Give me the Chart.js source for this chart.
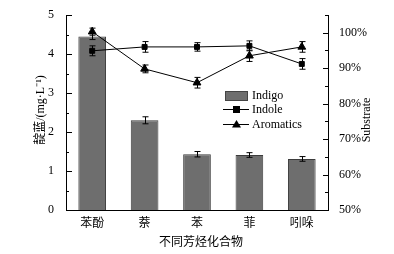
<!DOCTYPE html>
<html>
<head>
<meta charset="utf-8">
<script src="https://cdn.jsdelivr.net/npm/chart.js@4.4.0/dist/chart.umd.min.js"></script>
<style>
  html, body { margin: 0; padding: 0; background: #fff; }
  #wrap { width: 394px; height: 254px; }
</style>
</head>
<body>
<div id="wrap"><canvas id="myChart" width="394" height="254"></canvas></div>
<script>
// data
const categories = ['苯酚', '萘', '苯', '菲', '吲哚'];
const indigo = [4.45, 2.30, 1.43, 1.41, 1.31];
const indigoErr = [0.08, 0.09, 0.07, 0.06, 0.06];
const indole = [94.9, 96.0, 96.0, 96.3, 91.2];
const indoleErr = [1.4, 1.5, 1.2, 1.4, 1.5];
const aromatics = [100.3, 89.8, 85.9, 93.5, 96.0];
const aromaticsErr = [1.0, 1.1, 1.5, 1.6, 1.5];
const leftTicks = [0, 1, 2, 3, 4, 5];
const rightTicks = [50, 60, 70, 80, 90, 100];

const serif = '"Liberation Serif", "DejaVu Serif", serif';
const cjk = '"Noto Sans CJK SC", sans-serif';

// error bars, inward ticks, axis titles and the inset legend
const extras = {
  id: 'extras',
  afterDatasetsDraw(chart) {
    const ctx = chart.ctx;
    const errs = [indigoErr, indoleErr, aromaticsErr];
    ctx.save();
    ctx.strokeStyle = '#000';
    ctx.lineWidth = 1;
    chart.data.datasets.forEach((ds, i) => {
      const meta = chart.getDatasetMeta(i);
      const scale = chart.scales[ds.yAxisID];
      meta.data.forEach((el, j) => {
        const x = Math.round(el.x) + 0.5;
        const hi = scale.getPixelForValue(ds.data[j] + errs[i][j]);
        const lo = scale.getPixelForValue(ds.data[j] - errs[i][j]);
        ctx.beginPath();
        ctx.moveTo(x, hi); ctx.lineTo(x, lo);
        ctx.moveTo(x - 3, hi); ctx.lineTo(x + 3, hi);
        ctx.moveTo(x - 3, lo); ctx.lineTo(x + 3, lo);
        ctx.stroke();
      });
    });
    ctx.restore();
  },
  afterDraw(chart) {
    const ctx = chart.ctx;
    const a = chart.chartArea;
    const y = chart.scales.y, y2 = chart.scales.y2;
    ctx.save();
    ctx.strokeStyle = '#000';
    ctx.lineWidth = 1;
    ctx.beginPath();
    for (let v = 0; v <= 5; v += 0.5) {
      const p = Math.round(y.getPixelForValue(v)) + 0.5;
      ctx.moveTo(a.left, p); ctx.lineTo(a.left + (v % 1 === 0 ? 6 : 3), p);
    }
    for (let v = 50; v <= 105; v += 5) {
      const p = Math.round(y2.getPixelForValue(v)) + 0.5;
      ctx.moveTo(a.right, p); ctx.lineTo(a.right - (v % 10 === 0 ? 5 : 3), p);
    }
    ctx.stroke();

    // axis titles
    ctx.fillStyle = '#000';
    ctx.textAlign = 'center';
    ctx.textBaseline = 'middle';
    ctx.save();
    ctx.translate(41, 110);
    ctx.rotate(-Math.PI / 2);
    ctx.font = '12px "Liberation Serif", "Noto Sans CJK SC", serif';
    ctx.fillText('靛蓝/(mg·L⁻¹)', 0, 0);
    ctx.restore();
    ctx.save();
    ctx.translate(367, 120);
    ctx.rotate(-Math.PI / 2);
    ctx.font = '12px ' + serif;
    ctx.fillText('Substrate', 0, 0);
    ctx.restore();
    ctx.font = '12px ' + cjk;
    ctx.fillText('不同芳烃化合物', 201, 241);

    // legend
    const lx = 225;
    ctx.textAlign = 'left';
    ctx.font = '12px ' + serif;
    ctx.fillStyle = '#6e6e6e';
    ctx.fillRect(lx, 91, 23, 10);
    ctx.strokeStyle = '#444';
    ctx.strokeRect(lx + 0.5, 91.5, 22, 9);
    ctx.fillStyle = '#000';
    ctx.fillText('Indigo', lx + 27, 96);
    ctx.strokeStyle = '#000';
    ctx.beginPath();
    ctx.moveTo(lx - 2, 109.5); ctx.lineTo(lx + 24, 109.5);
    ctx.moveTo(lx - 2, 124.5); ctx.lineTo(lx + 24, 124.5);
    ctx.stroke();
    ctx.fillRect(lx + 8, 106, 7, 7);
    ctx.beginPath();
    ctx.moveTo(lx + 11.5, 120); ctx.lineTo(lx + 16, 127.5); ctx.lineTo(lx + 7, 127.5);
    ctx.closePath(); ctx.fill();
    ctx.fillText('Indole', lx + 27, 110);
    ctx.fillText('Aromatics', lx + 27, 125);
    ctx.restore();
  }
};

new Chart(document.getElementById('myChart').getContext('2d'), {
  type: 'bar',
  data: {
    labels: categories,
    datasets: [
      {
        type: 'bar',
        label: 'Indigo',
        data: indigo,
        yAxisID: 'y',
        backgroundColor: '#6e6e6e',
        borderColor: '#3c3c3c',
        borderWidth: 1,
        barPercentage: 0.6,
        categoryPercentage: 0.88,
        order: 3
      },
      {
        type: 'line',
        label: 'Indole',
        data: indole,
        yAxisID: 'y2',
        borderColor: '#000',
        borderWidth: 1,
        backgroundColor: '#000',
        pointStyle: 'rect',
        pointRadius: 3.5,
        order: 1
      },
      {
        type: 'line',
        label: 'Aromatics',
        data: aromatics,
        yAxisID: 'y2',
        borderColor: '#000',
        borderWidth: 1,
        backgroundColor: '#000',
        pointStyle: 'triangle',
        pointRadius: 4.5,
        order: 2
      }
    ]
  },
  options: {
    responsive: false,
    animation: false,
    layout: { padding: { top: 15 } },
    plugins: { legend: { display: false }, tooltip: { enabled: false } },
    scales: {
      x: {
        grid: { display: false },
        border: { color: '#000', width: 1 },
        ticks: { color: '#000', font: { size: 12, family: cjk }, padding: -3 },
        afterFit: s => { s.height = 44; }
      },
      y: {
        position: 'left',
        min: 0, max: 5,
        afterBuildTicks: s => { s.ticks = leftTicks.map(v => ({ value: v })); },
        grid: { display: false },
        border: { color: '#000', width: 1 },
        ticks: { color: '#000', font: { size: 12, family: serif }, padding: 4 },
        afterFit: s => { s.width = 66; }
      },
      y2: {
        position: 'right',
        min: 50, max: 105,
        afterBuildTicks: s => { s.ticks = rightTicks.map(v => ({ value: v })); },
        grid: { display: false },
        border: { color: '#000', width: 1 },
        ticks: { color: '#000', font: { size: 12, family: serif }, padding: 3, callback: v => v + '%' },
        afterFit: s => { s.width = 66; }
      }
    }
  },
  plugins: [extras]
});
</script>
</body>
</html>
